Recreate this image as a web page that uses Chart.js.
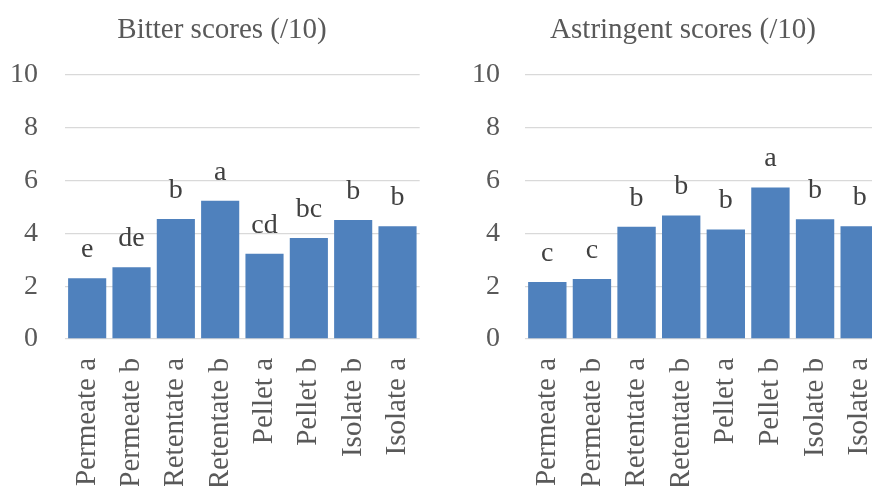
<!DOCTYPE html>
<html>
<head>
<meta charset="utf-8">
<script src="https://cdn.jsdelivr.net/npm/chart.js@4.4.1/dist/chart.umd.min.js"></script>
<style>
  html, body { margin: 0; padding: 0; background: #fff; overflow: hidden; }
  body { width: 872px; height: 486px; position: relative; }
  #wrapBitter { position: absolute; left: 0; top: 0; width: 444px; height: 486px; }
  #wrapAstr { position: absolute; left: 444px; top: 0; width: 478px; height: 486px; }
</style>
</head>
<body>
<div id="wrapBitter"><canvas id="bitterChart" width="444" height="486"></canvas></div>
<div id="wrapAstr"><canvas id="astrChart" width="478" height="486"></canvas></div>
<script>
// samples (same order in both panels)
const samples = ['Permeate a', 'Permeate b', 'Retentate a', 'Retentate b', 'Pellet a', 'Pellet b', 'Isolate b', 'Isolate a'];

// bitter scores and significance letters
const bitterScores = [2.3, 2.72, 4.55, 5.24, 3.23, 3.83, 4.51, 4.27];
const bitterLetters = ['e', 'de', 'b', 'a', 'cd', 'bc', 'b', 'b'];

// astringent scores and significance letters
const astrScores = [2.16, 2.27, 4.25, 4.68, 4.15, 5.74, 4.54, 4.27];
const astrLetters = ['c', 'c', 'b', 'b', 'b', 'a', 'b', 'b'];

const yTicks = [0, 2, 4, 6, 8, 10];

const serif = '"Liberation Serif", "Times New Roman", Times, serif';
const barColor = '#4F81BD';

// writes the letter over each bar
const lettersPlugin = {
    id: 'letters',
    afterDatasetsDraw(chart, args, opts) {
        const ctx = chart.ctx;
        const meta = chart.getDatasetMeta(0);
        ctx.save();
        ctx.font = '28px ' + serif;
        ctx.fillStyle = '#404040';
        ctx.textAlign = 'center';
        ctx.textBaseline = 'alphabetic';
        meta.data.forEach((bar, i) => {
            ctx.fillText(opts.labels[i], bar.x, bar.y - 21);
        });
        ctx.restore();
    }
};

function makeChart(id, title, scores, letters, yWidth, tickPad, rightGap) {
    const ctx = document.getElementById(id).getContext('2d');
    return new Chart(ctx, {
        type: 'bar',
        data: {
            labels: samples,
            datasets: [{
                data: scores,
                backgroundColor: barColor,
                borderWidth: 0,
                barPercentage: 0.86,
                categoryPercentage: 1
            }]
        },
        plugins: [lettersPlugin],
        options: {
            responsive: false,
            animation: false,
            layout: { padding: 0 },
            plugins: {
                legend: { display: false },
                tooltip: { enabled: false },
                title: {
                    display: true,
                    text: title,
                    color: '#595959',
                    font: { family: serif, size: 29, weight: 'normal' },
                    padding: { top: 13, bottom: 27.2 }
                },
                letters: { labels: letters }
            },
            scales: {
                x: {
                    grid: { display: false },
                    border: { display: false },
                    ticks: {
                        autoSkip: false,
                        minRotation: 90,
                        maxRotation: 90,
                        padding: 11,
                        color: '#595959',
                        font: { family: serif, size: 29 }
                    },
                    afterFit: (s) => { s.height = 147; }
                },
                y: {
                    min: 0,
                    max: 10,
                    afterBuildTicks: (s) => { s.ticks = yTicks.map(v => ({ value: v })); },
                    grid: { color: '#d9d9d9', lineWidth: 1.3, drawTicks: false },
                    border: { display: false },
                    ticks: {
                        padding: tickPad,
                        color: '#595959',
                        font: { family: serif, size: 28 }
                    },
                    afterFit: (s) => { s.width = yWidth; }
                },
                gap: {
                    position: 'right',
                    display: true,
                    grid: { display: false },
                    border: { display: false },
                    ticks: { display: false },
                    afterFit: (s) => { s.width = rightGap; }
                }
            }
        }
    });
}

makeChart('bitterChart', 'Bitter scores (/10)', bitterScores, bitterLetters, 65, 27, 11);
makeChart('astrChart', 'Astringent scores (/10)', astrScores, astrLetters, 81, 25, 40);
</script>
</body>
</html>
